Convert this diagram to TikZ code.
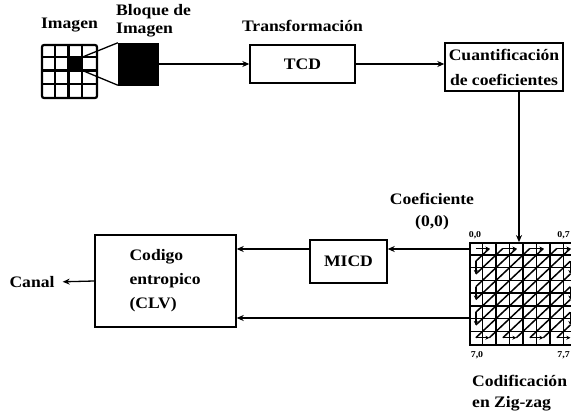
\documentclass[tikz,border=0pt]{standalone}
\usepackage{fontspec}
\newfontfamily\diafont[FakeStretch=1.1]{Liberation Serif}
\usetikzlibrary{positioning,arrows.meta,calc}
\tikzset{
  flow/.style={-{Stealth[length=7pt,width=6pt]},line width=1.3pt},
  zzstep/.style={-{Stealth[length=4pt,width=4pt]},line width=1.3pt},
  zzline/.style={line width=1.5pt},
  box/.style={draw,line width=1.4pt,align=center,
    font=\diafont\bfseries\fontsize{16}{25}\selectfont},
  lbl/.style={inner sep=0pt,align=left,
    font=\diafont\bfseries\fontsize{16}{21}\selectfont},
  tag/.style={inner sep=0pt,font=\diafont\bfseries\fontsize{9}{10}\selectfont},
  cellline/.style={line width=2.2pt}
}

\begin{document}
\begin{tikzpicture}[x=1pt,y=-1pt,node distance=12pt]
  \useasboundingbox (0,0) rectangle (571,415);
  \clip (0,0) rectangle (571,415);

  % image and block
  \node[draw,cellline,rounded corners=2pt,minimum width=55,minimum height=53,inner sep=0pt] (img) at (69.5,71.5) {};
  \foreach \k in {1,2,3} {
    \draw[cellline] ($(img.north west)+(13.75*\k,0)$) -- ($(img.south west)+(13.75*\k,0)$);
    \draw[cellline] ($(img.north west)+(0,13.25*\k)$) -- ($(img.north east)+(0,13.25*\k)$);
  }
  \fill ($(img.north west)+(27.5,13.25)$) rectangle ($(img.north west)+(41.25,26.5)$);
  \coordinate (hotup) at ($(img.north west)+(41.25,13.25)$);
  \coordinate (hotdn) at ($(img.north west)+(41.25,26.5)$);
  \node[draw,fill=black,minimum width=40,minimum height=42,inner sep=0pt] (blk) at (138,64) {};
  \draw[line width=1.3pt] (hotup) -- (blk.north west);
  \draw[line width=1.3pt] (hotdn) -- (blk.south west);
  \node[lbl,above=12pt of img] (imglbl) {Imagen};
  \node[lbl,anchor=west,font=\diafont\bfseries\fontsize{16}{18}\selectfont] (blklbl) at (116,21) {Bloque de\\Imagen};

  % transform and quantizer
  \node[box,minimum width=105,minimum height=38] (tcd) at (302.5,64) {TCD};
  \node[lbl,above=12pt of tcd] (tcdlbl) {Transformación};
  \node[box,minimum width=118,minimum height=48,inner sep=1pt] (cuant) at (504,67) {Cuantificación\\de coeficientes};
  \draw[flow] (blk) -- (tcd);
  \draw[flow] (tcd.east) -- (tcd.east -| cuant.west);

  % zig-zag grid
  \node[draw,line width=1.8pt,minimum width=108,minimum height=102,inner sep=0pt] (zz) at (524,294) {};
  \foreach \k in {1,...,7} {
    \draw[line width=1.4pt] ($(zz.north west)+(13.5*\k,0)$) -- ($(zz.south west)+(13.5*\k,0)$);
    \draw[line width=1.4pt] ($(zz.north west)+(0,12.75*\k)$) -- ($(zz.north east)+(0,12.75*\k)$);
  }
  \foreach \r in {0,...,7}
    \foreach \c in {0,...,7}
      \coordinate (z-\r-\c) at ($(zz.north west)+(13.5*\c+6.75,12.75*\r+6.375)$);
  \foreach \s in {1,...,13} {
    \pgfmathtruncatemacro\ra{min(\s,7)}
    \pgfmathtruncatemacro\ca{\s-\ra}
    \pgfmathtruncatemacro\rb{max(0,\s-7)}
    \pgfmathtruncatemacro\cb{\s-\rb}
    \draw[zzline] (z-\ra-\ca) -- (z-\rb-\cb);
  }
  \foreach \s in {0,...,13} {
    \pgfmathtruncatemacro\sn{\s+1}
    \pgfmathtruncatemacro\sa{\s-7}
    \pgfmathtruncatemacro\sb{\s-6}
    \ifodd\s\relax
      \ifnum\s<7 \draw[zzstep] (z-\s-0) -- (z-\sn-0); \else \draw[zzstep] (z-7-\sa) -- (z-7-\sb); \fi
    \else
      \ifnum\s<7 \draw[zzstep] (z-0-\s) -- (z-0-\sn); \else \draw[zzstep] (z-\sa-7) -- (z-\sb-7); \fi
    \fi
  }
  \node[tag] (t00) at (475,235) {0,0};
  \node[tag,anchor=east] (t07) at (570,235) {0,7};
  \node[tag] (t70) at (477,355) {7,0};
  \node[tag,anchor=east] (t77) at (570,355) {7,7};
  \node[lbl,anchor=west] (zzlbl) at (472,393) {Codificación\\en Zig-zag};

  \coordinate (drop) at (519,0);
  \draw[flow] (cuant.south -| drop) -- (zz.north -| drop);

  % coding chain
  \node[box,minimum width=77,minimum height=43] (micd) at (348.5,261.5) {MICD};
  \node[box,minimum width=141,minimum height=92,text width=72pt,align=left,
    font=\diafont\bfseries\fontsize{16}{24}\selectfont] (clv) at (165.5,281) {Codigo\\entropico\\(CLV)};
  \node[lbl,align=center,font=\diafont\bfseries\fontsize{16}{22}\selectfont] (coef) at (432,212) {Coeficiente\\(0,0)};
  \node[lbl] (canal) at (32,282) {Canal};

  \coordinate (row1) at (0,249);
  \coordinate (row7) at (0,318);
  \draw[flow] (zz.west |- row1) -- (micd.east |- row1);
  \draw[flow] (micd.west |- row1) -- (clv.east |- row1);
  \draw[flow] (zz.west |- row7) -- (clv.east |- row7);
  \draw[flow,shorten >=8pt] (clv.west) -- (canal.east);
\end{tikzpicture}
\end{document}
